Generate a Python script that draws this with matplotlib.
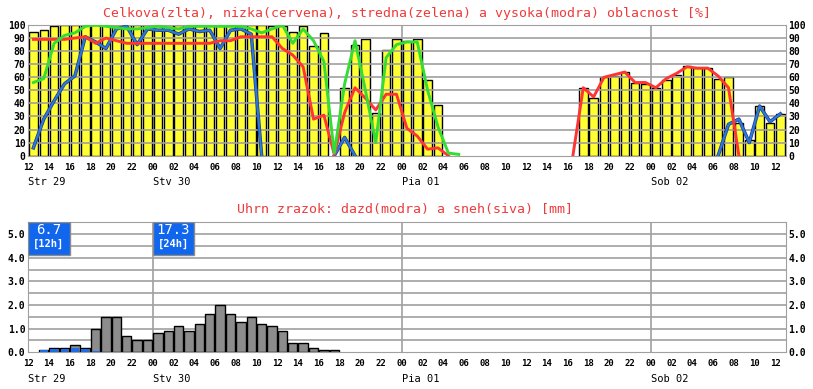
import numpy as np
import matplotlib.pyplot as plt
import matplotlib.transforms as mtransforms
import matplotlib.patheffects as pe
from matplotlib.patches import Rectangle

# hours from Str 29 12:00, one value per hour
hours = np.arange(73)
day_names = ['Str 29', 'Stv 30', 'Pia 01', 'Sob 02']
day_starts = [0, 12, 36, 60]

# cloud cover [%]
total = [95, 96, 99, 100, 100, 100, 100, 100, 100, 100, 100, 100, 100, 100, 100, 100,
         100, 100, 100, 100, 100, 100, 100, 99, 99, 95, 99, 84, 94, 0, 52, 85, 89, 33,
         81, 89, 88, 89, 58, 39, 0, 0, 0, 0, 0, 0, 0, 0, 0, 0, 0, 0, 0, 52, 44, 60, 61,
         64, 56, 55, 52, 58, 62, 69, 67, 67, 59, 60, 25, 12, 38, 25, 32]
N = None
low = [89, 89, 89, 89, 90, 91, 86, 90, 88, 86, 86, 86, 86, 86, 86, 86, 86, 86, 88, 88,
       91, 91, 91, 91, 82, 77, 68, 28, 31, 1, 33, 52, 44, 35, 47, 47, 21, 15, 5, 6, 0,
       N, N, N, N, N, N, N, N, N, N, N, 0, 52, 45, 60, 62, 64, 56, 56, 52, 59, 63, 68,
       67, 67, 61, 52, 0, N, N, N, N]
mid = [56, 59, 86, 92, 94, 99, 100, 99, 98, 97, 97, 98, 99, 98, 97, 99, 99, 99, 99, 99,
       99, 97, 94, 97, 100, 86, 97, 88, 72, 2, 55, 88, 50, 10, 75, 85, 87, 87, 50, 22, 2,
       1, N, N, N, N, N, N, N, N, N, N, N, N, N, N, N, N, N, N, N, N, N, N, N, N, N, N,
       N, N, N, N, N]
high = [6, 28, 42, 55, 61, 91, 87, 82, 97, 99, 85, 97, 96, 96, 93, 97, 95, 96, 82, 96,
        97, 93, 0, N, N, N, N, N, N, 0, 14, 0, N, N, N, N, N, N, N, N, N, N, N, N, N, N,
        N, N, N, N, N, N, N, N, N, N, N, N, N, N, N, N, N, N, N, N, 0, 24, 28, 10, 38, 26, 32]

# precipitation [mm], hours 0..29
precip_total = [0, 0.1, 0.2, 0.2, 0.3, 0.2, 1.0, 1.5, 1.5, 0.7, 0.5, 0.5, 0.8, 0.9, 1.1,
                0.9, 1.2, 1.6, 2.0, 1.6, 1.3, 1.5, 1.2, 1.1, 0.9, 0.4, 0.4, 0.2, 0.1, 0.1]
precip_rain = [0, 0.1, 0.15, 0.15, 0.2, 0.15, 0.05, 0, 0, 0, 0, 0, 0, 0, 0, 0, 0, 0,
               0.03, 0.03, 0.03, 0.03, 0.03, 0, 0, 0, 0, 0, 0, 0]
sums = [('6.7', '[12h]', 0), ('17.3', '[24h]', 12)]

title1 = 'Celkova(zlta), nizka(cervena), stredna(zelena) a vysoka(modra) oblacnost [%]'
title2 = 'Uhrn zrazok: dazd(modra) a sneh(siva) [mm]'

mono = 'DejaVu Sans Mono'
grid_c = '#a0a0a0'
W, H = 813, 389

fig = plt.figure(figsize=(W / 100, H / 100), dpi=100)
x0 = 28.2 / W
w = 73 * 10.375 / W
ax1 = fig.add_axes([x0, 1 - 155.7 / H, w, 130.7 / H])
ax2 = fig.add_axes([x0, 1 - 352.3 / H, w, 130.0 / H])

xlabels = ['%02d' % ((12 + h) % 24) for h in range(0, 73, 2)]

for ax in (ax1, ax2):
    ax.set_xlim(0, 73)
    ax.set_xticks(range(0, 73, 2))
    ax.set_xticklabels(xlabels, fontfamily=mono, fontweight='bold', fontsize=6.5)
    ax.tick_params(axis='x', length=0, pad=5)
    ax.tick_params(axis='y', length=0, pad=2, left=True, right=True,
                   labelleft=True, labelright=True)
    for s in ax.spines.values():
        s.set_color(grid_c)
    for d in day_starts[1:]:
        ax.axvline(d, color=grid_c, lw=1.2, zorder=1)
    tr = mtransforms.blended_transform_factory(ax.transData, ax.transAxes)
    for d, name in zip(day_starts, day_names):
        ax.text(d, -0.205, name, transform=tr, ha='left', va='center',
                fontfamily=mono, fontsize=7.5)

# top panel: cloud cover
tot = np.array(total, dtype=float)
m = tot > 0
ax1.bar(hours[m] + 0.5, tot[m], width=0.82, color='#ffff33', edgecolor='black',
        linewidth=1, zorder=2)
for y in range(10, 101, 10):
    ax1.axhline(y, color=grid_c, lw=1.2, zorder=3)
xs = hours + 0.5
to_arr = lambda v: np.array([np.nan if a is None else a for a in v], dtype=float)
ax1.plot(xs, to_arr(high), color='#2a78e0', lw=1.5, zorder=4,
         path_effects=[pe.withStroke(linewidth=2.5, foreground='#203c80')])
ax1.plot(xs, to_arr(low), color='#ff3535', lw=2.1, zorder=5)
ax1.plot(xs, to_arr(mid), color='#33dd33', lw=2.1, zorder=6)
ax1.set_ylim(0, 100)
ax1.set_yticks(range(0, 101, 10))
ax1.set_yticklabels([str(v) for v in range(0, 101, 10)], fontfamily=mono,
                    fontweight='bold', fontsize=7)

# bottom panel: precipitation
for y in np.arange(0.5, 5.6, 0.5):
    ax2.axhline(y, color=grid_c, lw=1.2, zorder=1)
ph = np.arange(len(precip_total))
pt = np.array(precip_total)
pr = np.array(precip_rain)
m2 = pt > 0
ax2.bar(ph[m2] + 0.5, pt[m2], width=0.9, color='#8c8c8c', edgecolor='black',
        linewidth=1, zorder=2)
m3 = pr > 0
ax2.bar(ph[m3] + 0.5, pr[m3], width=0.75, color='#1e6be6', edgecolor='none', zorder=3)
ax2.set_ylim(0, 5.5)
ax2.set_yticks(range(0, 6))
ax2.set_yticklabels(['%.1f' % v for v in range(0, 6)], fontfamily=mono,
                    fontweight='bold', fontsize=7)

for val, per, start in sums:
    ax2.add_patch(Rectangle((start, 4.12), 4.0, 1.38, facecolor='#1166ee',
                            edgecolor='#8a8a8a', lw=1, zorder=5))
    ax2.text(start + 2.0, 5.17, val, color='white', ha='center', va='center',
             fontfamily=mono, fontsize=10, zorder=6)
    ax2.text(start + 2.0, 4.6, per, color='white', ha='center', va='center',
             fontfamily=mono, fontweight='bold', fontsize=7.5, zorder=6)

fig.text(407 / W, 1 - 14 / H, title1, color='#ee3b3b', ha='center', va='center',
         fontfamily=mono, fontsize=9.5)
fig.text(405 / W, 1 - 210 / H, title2, color='#ee3b3b', ha='center', va='center',
         fontfamily=mono, fontsize=9.5)

fig.savefig('out.png', dpi=100)
